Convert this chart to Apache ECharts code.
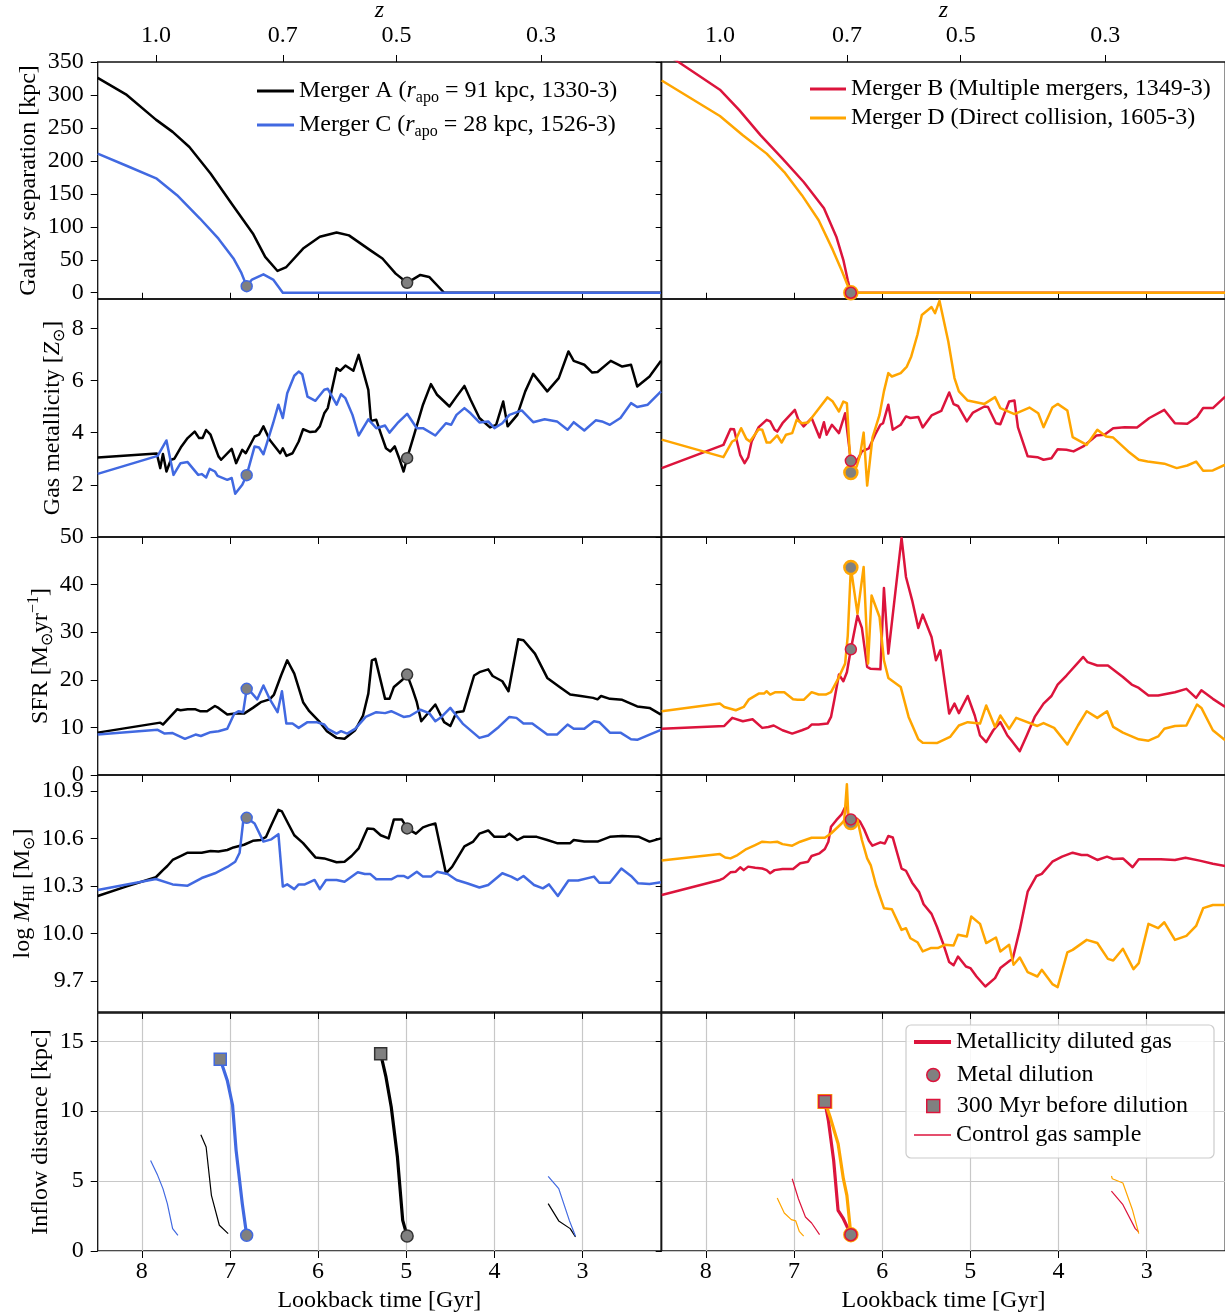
<!DOCTYPE html>
<html>
<head>
<meta charset="utf-8">
<script src="https://cdn.jsdelivr.net/npm/echarts@6/dist/echarts.min.js"></script>
<style>
  html, body { margin: 0; padding: 0; background: #fff; }
  #chart { width: 1225px; height: 1313px; }
</style>
</head>
<body>
<div id="chart"></div>
<script>
// ---- data (lookback time [Gyr], value) ----
const timeTicks = [3, 4, 5, 6, 7, 8];
const zLabels = ["1.0", "0.7", "0.5", "0.3"];
const zTickTimes = [7.84, 6.40, 5.11, 3.47];

// galaxy separation [kpc]
const sepA = [[8.5,325.8],[8.18,301],[7.84,262.6],[7.65,244],[7.46,221],[7.22,181],[6.98,135],[6.74,90],[6.60,54.5],[6.46,33],[6.36,39],[6.17,67],[5.98,85],[5.79,91.4],[5.65,87],[5.41,64.6],[5.27,52],[5.12,29],[4.99,15],[4.84,27],[4.74,24],[4.57,0],[2.11,0]];
const sepC = [[8.5,211],[8.18,193],[7.83,173],[7.60,148],[7.34,112.6],[7.13,82],[6.96,52],[6.87,30],[6.81,10],[6.75,20],[6.62,28],[6.51,20],[6.40,0],[2.11,0]];
const sepB = [[8.5,366],[8.31,350],[7.84,308],[7.62,277],[7.38,239],[7.13,203.5],[6.89,168],[6.66,128],[6.52,85],[6.44,49.5],[6.39,19],[6.355,0],[2.11,0]];
const sepD = [[8.5,322],[7.84,268],[7.58,239],[7.31,211],[7.11,183],[6.91,148],[6.72,110],[6.56,65],[6.46,34],[6.40,14],[6.355,0],[2.11,0]];

// gas metallicity [Zsun]
const metA = [[8.5,3.05],[7.83,3.2],[7.79,2.64],[7.76,3.18],[7.72,2.51],[7.67,2.96],[7.63,3.0],[7.55,3.47],[7.48,3.79],[7.40,4.04],[7.35,3.79],[7.31,3.79],[7.27,4.1],[7.22,3.92],[7.13,3.09],[7.10,2.96],[6.98,3.38],[6.93,2.83],[6.86,3.34],[6.82,3.21],[6.72,3.85],[6.67,3.92],[6.62,4.24],[6.55,3.73],[6.43,3.21],[6.40,3.4],[6.36,3.11],[6.29,3.21],[6.22,3.66],[6.17,4.13],[6.09,4.02],[6.03,4.04],[5.98,4.24],[5.93,4.74],[5.89,4.94],[5.79,6.47],[5.75,6.37],[5.69,6.57],[5.60,6.37],[5.54,6.98],[5.43,5.64],[5.40,4.45],[5.34,4.49],[5.29,3.98],[5.23,3.4],[5.18,3.28],[5.13,3.47],[5.08,3.02],[5.03,2.51],[4.99,3.02],[4.91,3.92],[4.81,5.07],[4.72,5.86],[4.65,5.45],[4.51,5.0],[4.43,5.38],[4.34,5.79],[4.27,5.26],[4.17,4.56],[4.05,4.2],[3.98,4.3],[3.90,5.19],[3.85,4.24],[3.74,4.68],[3.65,5.58],[3.56,6.25],[3.40,5.58],[3.27,6.09],[3.16,7.11],[3.10,6.75],[2.98,6.6],[2.89,6.3],[2.83,6.32],[2.68,6.75],[2.55,6.53],[2.45,6.6],[2.38,5.77],[2.24,6.15],[2.11,6.75]];
const metC = [[8.5,2.42],[7.82,3.11],[7.72,3.7],[7.64,2.38],[7.56,2.83],[7.48,2.87],[7.36,2.38],[7.32,2.41],[7.27,2.28],[7.23,2.61],[7.17,2.51],[7.14,2.34],[7.03,2.19],[6.98,2.26],[6.94,1.66],[6.86,2.0],[6.81,2.37],[6.72,3.47],[6.67,3.43],[6.62,3.17],[6.51,4.36],[6.45,5.07],[6.40,4.56],[6.35,5.51],[6.27,6.18],[6.22,6.34],[6.18,6.24],[6.12,5.38],[6.03,5.22],[5.93,5.64],[5.89,5.68],[5.79,5.07],[5.74,5.47],[5.69,5.32],[5.61,4.68],[5.54,3.89],[5.43,4.51],[5.34,4.17],[5.24,4.27],[5.19,4.0],[5.10,4.36],[4.99,4.72],[4.88,4.17],[4.81,4.17],[4.67,3.89],[4.55,4.36],[4.49,4.3],[4.43,4.68],[4.34,4.94],[4.27,4.74],[4.17,4.39],[4.07,4.43],[4.0,4.17],[3.91,4.36],[3.83,4.68],[3.69,4.85],[3.56,4.4],[3.43,4.51],[3.29,4.43],[3.17,4.11],[3.10,4.4],[2.98,4.08],[2.85,4.47],[2.78,4.43],[2.69,4.3],[2.57,4.56],[2.45,5.13],[2.38,4.98],[2.26,5.07],[2.11,5.58]];
const metB = [[8.5,2.64],[7.80,3.53],[7.72,4.14],[7.68,4.13],[7.61,3.15],[7.56,2.83],[7.52,3.05],[7.48,3.66],[7.40,4.21],[7.31,4.49],[7.27,4.43],[7.22,4.11],[7.19,4.04],[7.13,4.36],[6.99,4.87],[6.95,4.49],[6.89,4.24],[6.80,4.56],[6.71,3.81],[6.66,4.4],[6.63,3.92],[6.57,4.3],[6.49,3.98],[6.42,4.74],[6.355,2.92],[6.29,2.89],[6.23,3.28],[6.15,3.4],[6.08,3.92],[6.02,4.3],[5.99,4.36],[5.93,5.07],[5.88,4.11],[5.79,4.3],[5.73,4.62],[5.68,4.56],[5.59,4.6],[5.54,4.2],[5.44,4.66],[5.33,4.83],[5.24,5.54],[5.19,5.09],[5.14,5.02],[5.04,4.43],[4.97,4.77],[4.84,5.0],[4.80,4.98],[4.71,4.36],[4.66,4.32],[4.56,5.19],[4.50,5.23],[4.46,4.2],[4.35,3.09],[4.24,3.06],[4.17,2.96],[4.08,3.02],[4.01,3.36],[3.91,3.34],[3.83,3.28],[3.72,3.47],[3.57,3.89],[3.48,3.92],[3.38,4.17],[3.25,4.21],[3.11,4.2],[2.97,4.56],[2.80,4.87],[2.68,4.36],[2.54,4.34],[2.43,4.6],[2.36,4.94],[2.25,4.94],[2.11,5.38]];
const metD = [[8.5,3.73],[7.80,3.06],[7.70,3.66],[7.66,3.73],[7.60,4.17],[7.54,3.76],[7.50,3.66],[7.40,4.13],[7.36,4.11],[7.31,3.62],[7.27,3.62],[7.19,3.89],[7.14,3.62],[7.09,3.92],[7.02,3.98],[6.97,4.49],[6.91,4.36],[6.84,4.39],[6.70,5.0],[6.62,5.35],[6.56,5.19],[6.49,4.81],[6.44,5.19],[6.40,5.13],[6.355,2.47],[6.29,2.7],[6.25,3.15],[6.21,4.0],[6.17,1.97],[6.11,3.81],[6.03,4.68],[5.98,5.58],[5.93,6.28],[5.89,6.15],[5.79,6.28],[5.72,6.53],[5.67,6.92],[5.60,7.75],[5.55,8.51],[5.44,8.81],[5.40,8.58],[5.35,9.05],[5.25,7.49],[5.18,6.09],[5.13,5.58],[5.03,5.23],[4.84,5.1],[4.72,5.36],[4.66,4.94],[4.50,4.71],[4.33,4.96],[4.23,4.74],[4.17,4.21],[4.07,4.96],[4.01,5.1],[3.90,4.85],[3.84,3.83],[3.68,3.53],[3.56,4.11],[3.46,3.85],[3.38,3.81],[3.21,3.28],[3.09,2.96],[2.99,2.89],[2.80,2.81],[2.66,2.64],[2.54,2.74],[2.44,2.89],[2.36,2.54],[2.25,2.55],[2.11,2.77]];

// star formation rate [Msun/yr]
const sfrA = [[8.5,8.9],[7.79,11.0],[7.76,10.6],[7.60,13.8],[7.56,13.6],[7.48,13.8],[7.39,13.8],[7.34,13.4],[7.26,13.4],[7.17,14.5],[7.13,14.1],[7.03,12.7],[6.94,12.9],[6.84,12.9],[6.74,14.1],[6.65,15.3],[6.55,15.9],[6.50,16.9],[6.42,20.9],[6.35,24.1],[6.27,21.3],[6.17,15.3],[6.10,13.4],[5.98,11.1],[5.90,9.2],[5.79,7.8],[5.70,7.6],[5.58,9.4],[5.49,12.5],[5.43,17.1],[5.39,24.1],[5.35,24.4],[5.24,16.0],[5.19,16.0],[5.14,18.5],[5.05,19.9],[4.99,21.1],[4.93,18.1],[4.88,15.3],[4.83,11.3],[4.67,14.8],[4.57,11.1],[4.50,10.3],[4.43,13.2],[4.35,13.4],[4.23,20.9],[4.17,21.6],[4.07,22.2],[4.02,20.8],[3.91,19.7],[3.84,17.6],[3.73,28.5],[3.67,28.3],[3.54,25.5],[3.40,20.4],[3.26,18.5],[3.14,16.9],[3.02,16.6],[2.88,16.2],[2.83,15.9],[2.79,16.6],[2.69,16.0],[2.55,15.8],[2.38,14.4],[2.24,14.1],[2.11,12.7]];
const sfrC = [[8.5,8.5],[7.82,9.5],[7.74,8.7],[7.65,8.8],[7.51,7.6],[7.39,8.5],[7.33,8.2],[7.22,9.0],[7.13,9.2],[7.03,9.7],[6.95,12.9],[6.90,13.4],[6.85,13.2],[6.81,18.1],[6.77,17.6],[6.69,15.9],[6.62,18.8],[6.55,16.0],[6.46,13.2],[6.41,17.6],[6.36,10.8],[6.29,10.8],[6.22,9.9],[6.12,11.1],[6.02,11.1],[5.93,10.6],[5.89,9.7],[5.79,8.7],[5.74,9.2],[5.67,8.7],[5.58,9.7],[5.46,12.2],[5.34,13.2],[5.24,13.0],[5.17,13.4],[5.03,12.2],[4.96,12.4],[4.84,13.7],[4.74,13.0],[4.67,11.3],[4.60,12.2],[4.50,14.1],[4.36,10.8],[4.17,7.8],[4.07,8.3],[3.95,10.1],[3.83,12.2],[3.75,12.0],[3.67,10.8],[3.57,10.8],[3.40,8.5],[3.29,8.5],[3.17,10.6],[3.10,9.7],[2.98,9.7],[2.87,11.3],[2.81,11.1],[2.69,8.9],[2.57,8.9],[2.45,7.5],[2.38,7.4],[2.24,8.5],[2.11,9.5]];
const sfrB = [[8.5,9.7],[7.79,10.3],[7.70,12.0],[7.58,11.3],[7.47,11.7],[7.36,9.9],[7.29,10.1],[7.23,10.4],[7.13,9.4],[7.02,8.7],[6.91,9.4],[6.84,9.9],[6.80,10.6],[6.72,10.6],[6.62,10.8],[6.58,12.2],[6.54,16.0],[6.49,21.1],[6.44,19.7],[6.40,21.6],[6.355,26.4],[6.28,33.5],[6.23,30.9],[6.17,22.7],[6.13,22.3],[6.02,22.2],[5.98,39.3],[5.93,25.5],[5.78,49.8],[5.73,41.6],[5.66,36.7],[5.59,30.9],[5.54,33.7],[5.44,29.0],[5.39,24.1],[5.34,26.2],[5.24,12.9],[5.18,15.0],[5.13,13.0],[5.03,16.6],[4.95,12.5],[4.89,8.3],[4.82,6.9],[4.74,9.4],[4.66,11.1],[4.58,8.3],[4.54,7.4],[4.44,5.0],[4.36,8.3],[4.27,12.2],[4.17,15.0],[4.08,16.6],[4.01,19.0],[3.91,20.9],[3.72,24.8],[3.67,23.7],[3.56,23.0],[3.44,23.0],[3.27,20.6],[3.17,19.0],[3.09,18.3],[2.98,16.7],[2.87,16.7],[2.68,17.4],[2.55,18.1],[2.44,16.2],[2.38,17.8],[2.25,16.0],[2.11,14.3]];
const sfrD = [[8.5,13.4],[7.84,15.0],[7.79,14.3],[7.66,13.6],[7.57,14.3],[7.51,15.9],[7.40,17.1],[7.34,17.1],[7.31,17.6],[7.27,16.9],[7.21,17.4],[7.11,17.4],[7.01,15.9],[6.96,15.8],[6.89,15.8],[6.80,17.4],[6.72,16.9],[6.64,16.9],[6.58,17.4],[6.50,20.2],[6.42,23.4],[6.39,29.3],[6.355,43.6],[6.28,33.9],[6.21,43.7],[6.16,23.4],[6.12,37.7],[6.03,33.2],[5.98,24.1],[5.93,20.4],[5.79,18.5],[5.70,12.2],[5.59,7.5],[5.54,6.8],[5.38,6.7],[5.23,8.0],[5.13,10.4],[5.03,11.1],[4.89,10.8],[4.82,14.6],[4.72,10.1],[4.66,12.5],[4.56,9.7],[4.48,12.0],[4.24,10.3],[4.17,10.9],[4.05,9.9],[3.90,6.4],[3.78,10.4],[3.68,13.4],[3.56,12.0],[3.45,13.4],[3.38,10.1],[3.27,8.9],[3.09,7.5],[2.98,7.2],[2.87,8.1],[2.80,9.7],[2.68,10.3],[2.55,10.4],[2.43,14.8],[2.38,14.1],[2.25,9.4],[2.11,7.3]];

// log HI mass [Msun]
const hiA = [[8.5,10.237],[8.18,10.296],[7.84,10.355],[7.76,10.40],[7.71,10.426],[7.65,10.464],[7.56,10.489],[7.48,10.51],[7.32,10.51],[7.22,10.52],[7.13,10.518],[7.03,10.527],[6.96,10.543],[6.84,10.56],[6.74,10.585],[6.65,10.59],[6.59,10.61],[6.53,10.684],[6.45,10.78],[6.41,10.77],[6.34,10.694],[6.27,10.62],[6.17,10.57],[6.03,10.48],[5.93,10.474],[5.79,10.45],[5.70,10.453],[5.62,10.489],[5.54,10.537],[5.44,10.663],[5.37,10.659],[5.29,10.62],[5.20,10.60],[5.14,10.72],[5.05,10.72],[4.99,10.663],[4.89,10.63],[4.81,10.67],[4.74,10.684],[4.67,10.694],[4.55,10.38],[4.48,10.42],[4.34,10.55],[4.24,10.58],[4.17,10.63],[4.07,10.65],[4.0,10.61],[3.88,10.61],[3.83,10.63],[3.74,10.59],[3.67,10.61],[3.52,10.61],[3.40,10.59],[3.29,10.57],[3.14,10.57],[3.10,10.59],[2.98,10.58],[2.83,10.58],[2.69,10.61],[2.55,10.615],[2.36,10.61],[2.24,10.58],[2.11,10.60]];
const hiC = [[8.5,10.275],[7.84,10.344],[7.65,10.31],[7.48,10.302],[7.32,10.35],[7.17,10.38],[7.03,10.42],[6.94,10.453],[6.89,10.51],[6.85,10.705],[6.81,10.73],[6.72,10.694],[6.62,10.58],[6.53,10.594],[6.45,10.627],[6.40,10.296],[6.35,10.31],[6.27,10.28],[6.22,10.31],[6.15,10.31],[6.04,10.338],[5.98,10.28],[5.91,10.338],[5.79,10.338],[5.70,10.327],[5.55,10.386],[5.47,10.376],[5.41,10.376],[5.34,10.342],[5.17,10.342],[5.10,10.363],[5.03,10.363],[4.98,10.35],[4.88,10.39],[4.81,10.359],[4.72,10.359],[4.65,10.39],[4.53,10.376],[4.43,10.338],[4.31,10.317],[4.17,10.29],[4.07,10.306],[3.91,10.38],[3.81,10.359],[3.74,10.338],[3.67,10.363],[3.55,10.306],[3.45,10.285],[3.38,10.31],[3.28,10.237],[3.16,10.334],[3.05,10.334],[2.87,10.359],[2.81,10.32],[2.69,10.32],[2.56,10.41],[2.45,10.363],[2.37,10.317],[2.24,10.313],[2.11,10.323]];
const hiB = [[8.5,10.243],[7.84,10.338],[7.80,10.348],[7.72,10.386],[7.66,10.39],[7.61,10.418],[7.57,10.40],[7.52,10.422],[7.44,10.415],[7.36,10.41],[7.31,10.40],[7.27,10.38],[7.22,10.40],[7.13,10.407],[7.01,10.407],[6.93,10.443],[6.84,10.453],[6.80,10.489],[6.71,10.506],[6.65,10.533],[6.61,10.579],[6.58,10.673],[6.52,10.715],[6.46,10.751],[6.40,10.82],[6.38,10.715],[6.355,10.72],[6.29,10.726],[6.25,10.705],[6.20,10.652],[6.15,10.585],[6.11,10.554],[6.02,10.575],[5.97,10.568],[5.93,10.615],[5.88,10.606],[5.78,10.41],[5.73,10.396],[5.66,10.321],[5.58,10.26],[5.53,10.185],[5.44,10.124],[5.38,10.044],[5.31,9.939],[5.24,9.82],[5.19,9.80],[5.14,9.855],[5.05,9.792],[5.0,9.782],[4.93,9.729],[4.83,9.666],[4.72,9.719],[4.66,9.782],[4.55,9.83],[4.52,9.839],[4.44,10.023],[4.35,10.264],[4.25,10.363],[4.19,10.376],[4.07,10.453],[3.96,10.485],[3.84,10.51],[3.74,10.495],[3.67,10.495],[3.56,10.464],[3.45,10.485],[3.38,10.47],[3.27,10.474],[3.16,10.418],[3.09,10.468],[2.84,10.468],[2.68,10.464],[2.56,10.478],[2.40,10.46],[2.25,10.44],[2.11,10.426]];
const hiD = [[8.5,10.46],[7.84,10.501],[7.78,10.48],[7.72,10.474],[7.64,10.495],[7.54,10.533],[7.44,10.558],[7.36,10.579],[7.27,10.575],[7.19,10.579],[7.13,10.564],[7.02,10.554],[6.93,10.579],[6.80,10.604],[6.65,10.604],[6.58,10.631],[6.46,10.694],[6.43,10.715],[6.40,10.942],[6.38,10.694],[6.355,10.70],[6.28,10.715],[6.23,10.59],[6.17,10.474],[6.13,10.432],[6.07,10.306],[5.98,10.16],[5.89,10.153],[5.78,10.023],[5.73,10.033],[5.68,9.97],[5.60,9.945],[5.54,9.887],[5.45,9.908],[5.37,9.908],[5.29,9.929],[5.19,9.925],[5.14,9.992],[5.04,9.981],[4.99,10.107],[4.89,10.061],[4.82,9.94],[4.71,9.975],[4.66,9.887],[4.56,9.929],[4.51,9.803],[4.44,9.849],[4.35,9.757],[4.24,9.729],[4.19,9.771],[4.07,9.681],[4.01,9.662],[3.90,9.881],[3.84,9.897],[3.68,9.96],[3.56,9.94],[3.44,9.84],[3.38,9.83],[3.27,9.904],[3.15,9.775],[3.09,9.813],[2.98,10.061],[2.87,10.034],[2.80,10.071],[2.68,9.96],[2.55,9.985],[2.44,10.048],[2.36,10.16],[2.25,10.18],[2.11,10.18]];

// inflow distance [kpc]: diluted gas tracks, then control samples ('-' splits segments)
const inflowA = [[5.29,14.1],[5.23,12.45],[5.17,10.3],[5.10,6.72],[5.04,2.19],[4.99,1.07]];
const inflowC = [[7.11,13.71],[7.03,12.2],[6.97,10.42],[6.93,7.2],[6.86,3.39],[6.81,1.12]];
const inflowB = [[6.65,10.7],[6.61,9.34],[6.55,6.48],[6.50,2.91],[6.44,2.31],[6.355,1.17]];
const inflowD = [[6.65,10.7],[6.59,9.58],[6.50,7.68],[6.44,5.17],[6.40,3.98],[6.355,1.17]];
const controlA = [[7.33,8.32],[7.27,7.44],[7.21,3.98],[7.12,1.84],[7.02,1.24],["-","-"],[3.39,3.39],[3.27,2.15],[3.14,1.6],[3.08,1.0]];
const controlC = [[7.90,6.48],[7.82,5.41],[7.76,4.46],[7.71,3.39],[7.65,1.6],[7.59,1.12],["-","-"],[3.39,5.34],[3.27,4.46],[3.15,2.19],[3.08,1.05]];
const controlB = [[7.02,5.17],[6.95,3.74],[6.87,2.43],[6.80,2.0],[6.71,1.17],["-","-"],[3.40,4.29],[3.27,3.31],[3.13,1.6],[3.09,1.36]];
const controlD = [[7.19,3.79],[7.11,2.72],[7.03,2.24],[6.98,2.15],[6.94,1.41],[6.89,1.07],["-","-"],[3.40,5.36],[3.39,5.17],[3.27,4.86],[3.16,2.91],[3.09,1.24]];

// metal dilution moment: time and value in each row (sep, met, sfr, HI, inflow)
const dilTimeA = 4.99, dilTimeC = 6.81, dilTimeB = 6.355, dilTimeD = 6.355;
const dotA = [15, 3.02, 21.1, 10.663, 1.07];
const dotC = [10, 2.37, 18.1, 10.73, 1.12];
const dotB = [0, 2.92, 26.4, 10.72, 1.17];
const dotD = [0, 2.47, 43.6, 10.70, 1.17];
// 300 Myr before dilution [t, kpc]
const squareA = [5.29, 14.1];
const squareC = [7.11, 13.71];
const squareB = [6.65, 10.7];
const squareD = [6.65, 10.7];

// axes
const yRanges = [[-9.5, 350], [0, 9.12], [0, 50], [9.505, 11.0], [0, 17.02]];
const yTicks = [[0,50,100,150,200,250,300,350], [2,4,6,8], [0,10,20,30,40,50], [9.7,10.0,10.3,10.6,10.9], [0,5,10,15]];
const yNames = ["Galaxy separation [kpc]", "Gas metallicity [{i|Z}{sub|⊙}]", "SFR [M{sub|⊙}yr{sup|−1}]", "log {i|M}{sub|HI} [M{sub|⊙}]", "Inflow distance [kpc]"];

// ---- layout ----
const FONT = "Liberation Serif";
const FS = 24;
const BLACK = "#000000", BLUE = "#4169E1", RED = "#DC143C", ORANGE = "#FFA500", GREY = "#808080";
const T_MIN = 2.11, T_MAX = 8.5;
const rowTop = [62, 299, 537, 775, 1013];
const rowBottom = [299, 537, 775, 1012, 1251];
const colLeft = [97.7, 661.7];
const colWidth = [563.3, 563.5];
const nameGaps = [50, 29, 40, 59, 38];

const rich = {
  i: { fontFamily: FONT, fontSize: FS, fontStyle: "italic", color: BLACK, lineHeight: 30 },
  eq: { fontFamily: FONT, fontSize: FS, color: BLACK, lineHeight: 30 },
  sub: { fontFamily: FONT, fontSize: 16, color: BLACK, lineHeight: 16, verticalAlign: "bottom" },
  sup: { fontFamily: FONT, fontSize: 16, color: BLACK, lineHeight: 16, verticalAlign: "top" },
};

const grids = [], xAxes = [], yAxes = [];
for (let r = 0; r < 5; r++) {
  for (let c = 0; c < 2; c++) {
    const g = r * 2 + c;
    grids.push({
      left: colLeft[c], top: rowTop[r], width: colWidth[c], height: rowBottom[r] - rowTop[r],
      show: true, borderColor: "#111", borderWidth: 1.3, backgroundColor: "transparent",
      containLabel: false, outerBoundsMode: "none",
    });
    xAxes.push({
      gridIndex: g, type: "value", min: T_MIN, max: T_MAX, inverse: true,
      axisLine: { show: false },
      axisTick: { show: true, inside: false, length: 7, customValues: timeTicks, lineStyle: { color: BLACK, width: 1 } },
      axisLabel: { show: r === 4, customValues: timeTicks, fontFamily: FONT, fontSize: FS, color: BLACK, margin: 9 },
      splitLine: { show: r === 4, lineStyle: { color: "#c8c8c8", width: 1.2 } },
      name: r === 4 ? "Lookback time [Gyr]" : "", nameLocation: "middle", nameGap: 38,
      nameTextStyle: { fontFamily: FONT, fontSize: FS, color: BLACK },
    });
    yAxes.push({
      gridIndex: g, type: "value", min: yRanges[r][0], max: yRanges[r][1],
      axisLine: { show: false },
      axisTick: { show: true, inside: false, length: c === 0 ? 7 : 6, customValues: yTicks[r], lineStyle: { color: BLACK, width: 1 } },
      axisLabel: {
        show: c === 0, customValues: yTicks[r], fontFamily: FONT, fontSize: FS, color: BLACK, margin: 14,
        formatter: (v) => (r === 3 ? v.toFixed(1) : String(v)),
      },
      splitLine: { show: r === 4, lineStyle: { color: "#c8c8c8", width: 1.2 } },
      name: c === 0 ? yNames[r] : "", nameLocation: "middle", nameRotate: 90, nameGap: nameGaps[r],
      nameTextStyle: { fontFamily: FONT, fontSize: FS, color: BLACK, lineHeight: 30, rich: rich },
    });
  }
}
// redshift axes on top of the first row
for (let c = 0; c < 2; c++) {
  xAxes.push({
    gridIndex: c, type: "value", position: "top", min: T_MIN, max: T_MAX, inverse: true,
    axisLine: { show: false },
    axisTick: { show: true, inside: false, length: 7, customValues: zTickTimes, lineStyle: { color: BLACK } },
    axisLabel: {
      customValues: zTickTimes, fontFamily: FONT, fontSize: FS, color: BLACK, margin: 14,
      formatter: (v) => {
        const k = zTickTimes.findIndex((t) => Math.abs(t - v) < 1e-6);
        return k >= 0 ? zLabels[k] : "";
      },
    },
    splitLine: { show: false },
    name: "z", nameLocation: "middle", nameGap: 34,
    nameTextStyle: { fontFamily: FONT, fontSize: FS, fontStyle: "italic", color: BLACK },
  });
}

function lineSeries(name, g, data, color, width) {
  return {
    name, type: "line", xAxisIndex: g, yAxisIndex: g, data,
    symbol: "none", showSymbol: false, clip: true, silent: true, animation: false,
    connectNulls: false, lineStyle: { color, width, join: "round" }, itemStyle: { color }, z: 2,
  };
}
function markSeries(name, g, data, edge, symbol, size, bw) {
  return {
    name, type: "scatter", xAxisIndex: g, yAxisIndex: g, data,
    symbol, symbolSize: size, silent: true, animation: false, clip: false,
    itemStyle: { color: GREY, borderColor: edge, borderWidth: bw, opacity: 1 }, z: 5,
  };
}

const rowsLeft = [[sepA, sepC], [metA, metC], [sfrA, sfrC], [hiA, hiC]];
const rowsRight = [[sepB, sepD], [metB, metD], [sfrB, sfrD], [hiB, hiD]];
const series = [];
for (let r = 0; r < 4; r++) {
  const gl = r * 2, gr = r * 2 + 1;
  series.push(lineSeries("Merger A", gl, rowsLeft[r][0], BLACK, 2.5));
  series.push(lineSeries("Merger C", gl, rowsLeft[r][1], BLUE, 2.5));
  series.push(lineSeries("Merger B", gr, rowsRight[r][0], RED, 2.5));
  series.push(lineSeries("Merger D", gr, rowsRight[r][1], ORANGE, 2.5));
  series.push(markSeries("dotA", gl, [[dilTimeA, dotA[r]]], "#333", "circle", 11, 1.5));
  series.push(markSeries("dotC", gl, [[dilTimeC, dotC[r]]], BLUE, "circle", 11, 1.5));
  series.push(markSeries("dotD", gr, [[dilTimeD, dotD[r]]], ORANGE, "circle", 13, 2.5));
  series.push(markSeries("dotB", gr, [[dilTimeB, dotB[r]]], RED, "circle", 11, 1.5));
}
// inflow row
series.push(lineSeries("controlA", 8, controlA, BLACK, 1.2));
series.push(lineSeries("controlC", 8, controlC, BLUE, 1.2));
series.push(lineSeries("Merger A", 8, inflowA, BLACK, 3.2));
series.push(lineSeries("Merger C", 8, inflowC, BLUE, 3.2));
series.push(markSeries("sqA", 8, [squareA], "#333", "rect", 12, 1.5));
series.push(markSeries("sqC", 8, [squareC], BLUE, "rect", 12, 1.5));
series.push(markSeries("dotA", 8, [[dilTimeA, dotA[4]]], "#333", "circle", 12, 1.5));
series.push(markSeries("dotC", 8, [[dilTimeC, dotC[4]]], BLUE, "circle", 12, 1.5));
series.push(lineSeries("Control gas sample", 9, controlB, RED, 1.2));
series.push(lineSeries("controlD", 9, controlD, ORANGE, 1.2));
series.push(lineSeries("Metallicity diluted gas", 9, inflowB, RED, 3.2));
series.push(lineSeries("Merger D", 9, inflowD, ORANGE, 3.2));
series.push(markSeries("sqD", 9, [squareD], ORANGE, "rect", 13, 2));
series.push(markSeries("300 Myr before dilution", 9, [squareB], RED, "rect", 12, 1.5));
series.push(markSeries("dotD", 9, [[dilTimeD, dotD[4]]], ORANGE, "circle", 13, 2.5));
series.push(markSeries("Metal dilution", 9, [[dilTimeB, dotB[4]]], RED, "circle", 12, 1.5));

const legendText = { fontFamily: FONT, fontSize: FS, color: BLACK, lineHeight: 30, rich: rich };
function oneLegend(left, top, name, icon, w, h, style) {
  return {
    left, top, z: 10, orient: "vertical", padding: 0, itemWidth: w, itemHeight: h, selectedMode: false,
    textStyle: Object.assign({}, legendText, { lineHeight: 28 }),
    data: [{ name, icon, itemStyle: style }],
  };
}
const legends = [
  {
    left: 257, top: 76, z: 10, orient: "vertical", padding: 0, itemWidth: 37, itemHeight: 3, itemGap: 4,
    selectedMode: false, textStyle: legendText,
    data: [
      { name: "Merger A", icon: "rect", itemStyle: { color: BLACK } },
      { name: "Merger C", icon: "rect", itemStyle: { color: BLUE } },
    ],
    formatter: (n) => n === "Merger A"
      ? "Merger A ({i|r}{sub|apo}{eq| = }91 kpc, 1330-3)"
      : "Merger C ({i|r}{sub|apo}{eq| = }28 kpc, 1526-3)",
  },
  {
    left: 810, top: 75, z: 10, orient: "vertical", padding: 0, itemWidth: 36, itemHeight: 3, itemGap: 1,
    selectedMode: false, textStyle: Object.assign({}, legendText, { lineHeight: 28 }),
    data: [
      { name: "Merger B", icon: "rect", itemStyle: { color: RED } },
      { name: "Merger D", icon: "rect", itemStyle: { color: ORANGE } },
    ],
    formatter: (n) => n === "Merger B" ? "Merger B (Multiple mergers, 1349-3)" : "Merger D (Direct collision, 1605-3)",
  },
  oneLegend(914, 1028, "Metallicity diluted gas", "rect", 37, 4, { color: RED }),
  oneLegend(926, 1061, "Metal dilution", "circle", 37, 13, { color: GREY, borderColor: RED, borderWidth: 1.5 }),
  oneLegend(926, 1092, "300 Myr before dilution", "path://M0,0L10,0L10,10L0,10Z", 37, 13, { color: GREY, borderColor: RED, borderWidth: 1.5 }),
  oneLegend(914, 1121, "Control gas sample", "rect", 37, 1.5, { color: RED }),
];

const chart = echarts.init(document.getElementById("chart"), null, { renderer: "canvas" });
chart.setOption({
  backgroundColor: "#ffffff",
  animation: false,
  grid: grids,
  xAxis: xAxes,
  yAxis: yAxes,
  legend: legends,
  graphic: [{
    type: "rect", z: 3, silent: true,
    shape: { x: 906, y: 1025, width: 308, height: 133, r: 5 },
    style: { fill: "rgba(255,255,255,0.85)", stroke: "#cccccc", lineWidth: 1.2 },
  }],
  series: series,
});
</script>
</body>
</html>
